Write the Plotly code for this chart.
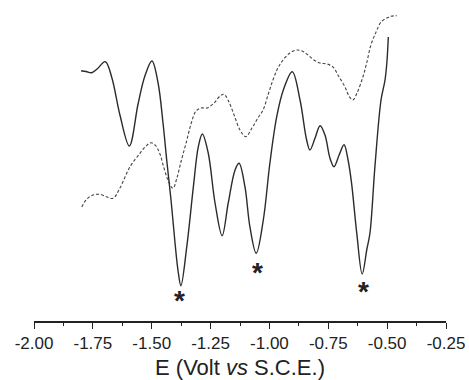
import plotly.graph_objects as go

# Solid trace: potential (V vs SCE) and current (arbitrary units)
solid_E = [-1.800, -1.779, -1.755, -1.732, -1.697, -1.669, -1.635, -1.595, -1.558, -1.529,
           -1.499, -1.473, -1.452, -1.435, -1.418, -1.401, -1.388, -1.376, -1.351, -1.323,
           -1.302, -1.285, -1.260, -1.231, -1.201, -1.175, -1.146, -1.129, -1.104, -1.083,
           -1.056, -1.026, -0.998, -0.969, -0.941, -0.903, -0.870, -0.842, -0.828, -0.806,
           -0.785, -0.764, -0.743, -0.726, -0.704, -0.683, -0.666, -0.651, -0.629, -0.606,
           -0.586, -0.573, -0.552, -0.526, -0.509, -0.501, -0.495]
solid_I = [250.3, 249.5, 248.3, 252.0, 259.3, 243.0, 206.0, 175.0, 217.0, 245.0,
           260.0, 238.0, 198.0, 158.0, 121.0, 78.0, 50.0, 35.3, 74.3, 134.3,
           174.3, 187.0, 168.0, 118.0, 85.3, 118.0, 151.0, 157.7, 134.3, 94.3,
           67.7, 101.0, 158.0, 204.3, 231.0, 249.3, 221.0, 181.0, 171.0, 183.0,
           195.3, 186.0, 163.0, 154.3, 166.0, 176.3, 161.0, 137.7, 87.7, 47.0,
           72.0, 88.0, 154.0, 221.0, 241.0, 259.0, 284.0]

# Dashed trace
dash_E = [-1.797, -1.779, -1.754, -1.720, -1.690, -1.664, -1.635, -1.592, -1.550, -1.524,
          -1.503, -1.482, -1.465, -1.448, -1.431, -1.410, -1.393, -1.376, -1.354, -1.333,
          -1.312, -1.291, -1.265, -1.235, -1.210, -1.193, -1.172, -1.150, -1.125, -1.100,
          -1.074, -1.049, -1.027, -1.006, -0.985, -0.964, -0.942, -0.913, -0.883, -0.857,
          -0.836, -0.811, -0.785, -0.755, -0.730, -0.709, -0.679, -0.662, -0.646, -0.628,
          -0.603, -0.586, -0.569, -0.547, -0.526, -0.501, -0.484, -0.459]
dash_I = [114.0, 121.0, 125.5, 126.7, 124.0, 122.7, 133.0, 154.3, 167.7, 175.0,
          178.3, 175.0, 167.0, 153.0, 141.0, 132.7, 143.0, 159.0, 178.0, 197.0,
          210.0, 213.0, 213.0, 218.0, 225.0, 226.7, 219.0, 206.0, 191.0, 184.3,
          193.0, 203.0, 211.0, 226.0, 241.0, 253.0, 261.0, 268.0, 271.0, 269.5,
          266.0, 261.0, 258.0, 257.0, 254.0, 246.0, 234.0, 225.0, 221.0, 228.0,
          244.0, 259.0, 276.0, 289.0, 299.0, 303.0, 304.7, 305.3]

# Marked peaks (asterisks)
star_E = [-1.380, -1.049, -0.601]
star_I = [23.7, 51.7, 32.7]

tick_vals = [-2.00, -1.75, -1.50, -1.25, -1.00, -0.75, -0.50, -0.25]
tick_text = ["-2.00", "-1.75", "-1.50", "-1.25", "-1.00", "-0.75", "-0.50", "-0.25"]

fig = go.Figure()
fig.add_trace(go.Scatter(x=dash_E, y=dash_I, mode="lines",
                         line=dict(color="#444444", width=1.1, dash="3px,2px", shape="spline", smoothing=1.0),
                         showlegend=False, hoverinfo="skip"))
fig.add_trace(go.Scatter(x=solid_E, y=solid_I, mode="lines",
                         line=dict(color="#2b2b2b", width=1.4, shape="spline", smoothing=1.0),
                         showlegend=False, hoverinfo="skip"))

for xe, yi in zip(star_E, star_I):
    fig.add_annotation(x=xe, y=yi, text="<b>*</b>", showarrow=False, xanchor="center", yanchor="middle",
                       yshift=-3,
                       font=dict(family="Liberation Sans, Arial, sans-serif", size=28, color="#222222"))

fig.update_layout(
    width=469, height=380,
    margin=dict(l=34, r=23, t=0, b=59),
    paper_bgcolor="white", plot_bgcolor="white",
    font=dict(family="Liberation Sans, Arial, sans-serif", color="#222222"),
    xaxis=dict(range=[-2.0, -0.25], showgrid=False, zeroline=False,
               showline=True, linecolor="#222222", linewidth=1.5,
               ticks="outside", ticklen=6, tickwidth=1.3, tickcolor="#222222",
               tickvals=tick_vals, ticktext=tick_text,
               tickfont=dict(size=17, color="#222222"),
               minor=dict(dtick=0.125, tick0=-2.0, ticks="outside", ticklen=3, tickwidth=1.2, tickcolor="#222222"),
               title=dict(text="E (Volt <i>vs</i> S.C.E.)", font=dict(size=22, color="#222222"), standoff=9)),
    yaxis=dict(range=[0, 321], visible=False),
)

fig.write_html("out.html")
